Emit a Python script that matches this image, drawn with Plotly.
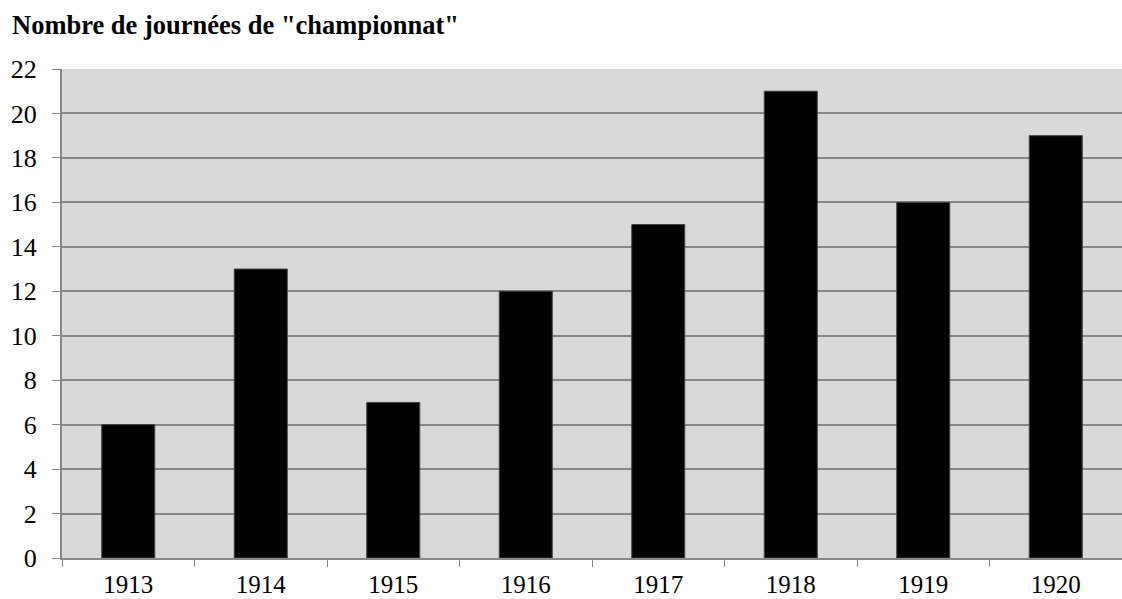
import plotly.graph_objects as go

years = ["1913", "1914", "1915", "1916", "1917", "1918", "1919", "1920"]
journees = [6, 13, 7, 12, 15, 21, 16, 19]
y_ticks = [0, 2, 4, 6, 8, 10, 12, 14, 16, 18, 20, 22]

fig = go.Figure()
fig.add_trace(go.Bar(
    x=years, y=journees,
    marker=dict(color="#000000", line=dict(color="#404040", width=1)),
    width=0.4,
))

font_family = "Liberation Serif, Times New Roman, serif"

W, H = 1122, 599
fig.update_layout(
    width=W, height=H,
    margin=dict(l=62, r=0, t=69, b=41),
    paper_bgcolor="white",
    plot_bgcolor="#d9d9d9",
    showlegend=False,
    font=dict(family=font_family, size=26, color="black"),
    title=dict(
        text='<b>Nombre de journées de "championnat"</b>',
        x=12 / W, xref="container", xanchor="left",
        y=1 - 25 / H, yref="container", yanchor="middle",
        font=dict(family=font_family, size=26.5, color="black"),
    ),
    bargap=0.6,
)
fig.update_xaxes(
    type="category",
    tickson="boundaries",
    ticks="outside", ticklen=7, tickcolor="#888888", tickwidth=1,
    showline=True, linecolor="#888888", linewidth=2,
    showgrid=False,
    automargin=False,
    ticklabelstandoff=3,
    tickfont=dict(family=font_family, size=25, color="black"),
)
fig.update_yaxes(
    range=[0, 22],
    tickvals=y_ticks,
    ticks="outside", ticklen=8, tickcolor="#888888", tickwidth=1,
    showline=True, linecolor="#888888", linewidth=2,
    showgrid=True, gridcolor="#888888", gridwidth=2,
    zeroline=False,
    automargin=False,
    ticklabelstandoff=10,
    tickfont=dict(family=font_family, size=26, color="black"),
)

fig.write_html(
    "out.html",
    config={"displayModeBar": False},
    post_script="document.body.style.margin='0';document.body.style.overflow='hidden';",
)
